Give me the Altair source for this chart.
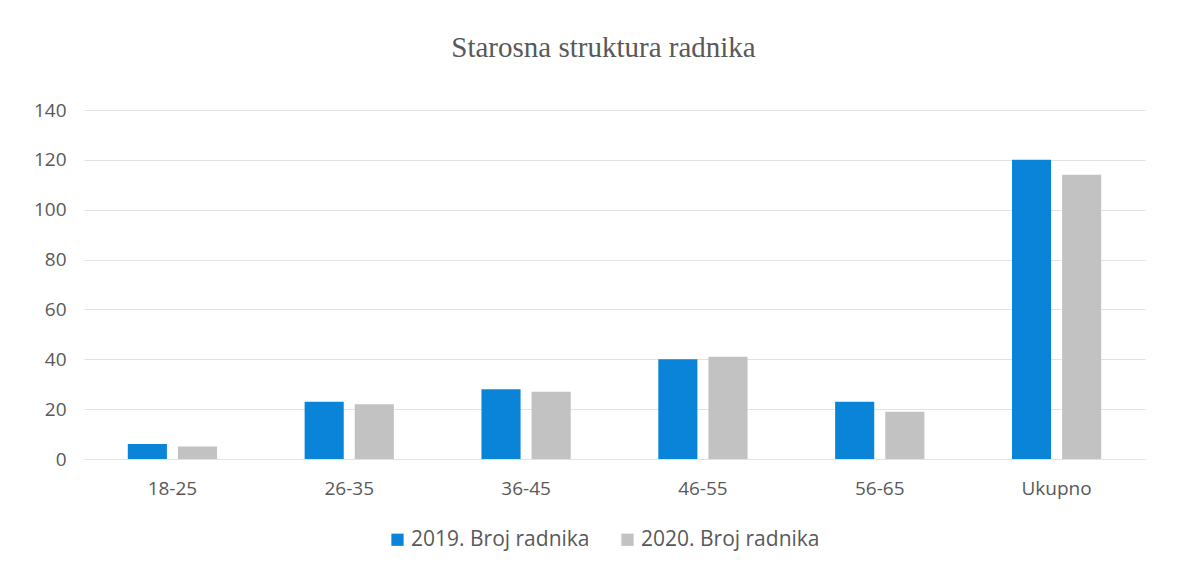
import altair as alt
import pandas as pd

categories = ["18-25", "26-35", "36-45", "46-55", "56-65", "Ukupno"]
series_names = ["2019. Broj radnika", "2020. Broj radnika"]
values_2019 = [6, 23, 28, 40, 23, 120]
values_2020 = [5, 22, 27, 41, 19, 114]
y_ticks = [0, 20, 40, 60, 80, 100, 120, 140]

rows = []
for c, a, b in zip(categories, values_2019, values_2020):
    rows.append({"kat": c, "serija": series_names[0], "vrijednost": a})
    rows.append({"kat": c, "serija": series_names[1], "vrijednost": b})
df = pd.DataFrame(rows)

label_color = "#595959"
font = "Open Sans"

chart = alt.Chart(df).mark_bar().encode(
    x=alt.X("kat:N", sort=categories,
            scale=alt.Scale(paddingInner=0.45, paddingOuter=0.225),
            axis=alt.Axis(title=None, labelAngle=0, ticks=False, domain=False,
                          labelPadding=20, labelFontSize=19, labelColor=label_color,
                          labelFont=font)),
    xOffset=alt.XOffset("serija:N", sort=series_names,
                        scale=alt.Scale(paddingInner=0.22, paddingOuter=0.08)),
    y=alt.Y("vrijednost:Q",
            scale=alt.Scale(domain=[0, 140], nice=False),
            axis=alt.Axis(title=None, values=y_ticks, ticks=False, domain=False,
                          labelPadding=18, labelFontSize=19, labelColor=label_color,
                          labelFont=font, gridColor="#e2e2e2", gridWidth=1)),
    color=alt.Color("serija:N", sort=series_names,
                    scale=alt.Scale(domain=series_names, range=["#0a84d9", "#c2c2c2"]),
                    legend=alt.Legend(title=None, orient="none", direction="horizontal",
                                      legendX=303, legendY=419,
                                      symbolType="square", symbolSize=150,
                                      symbolStrokeWidth=0, labelFontSize=21,
                                      labelColor=label_color, labelFont=font,
                                      labelLimit=400, columnPadding=27, labelOffset=3)),
).properties(
    width=1061,
    height=349,
    background="white",
    title=alt.TitleParams("Starosna struktura radnika", font="Liberation Serif",
                          fontSize=29, fontWeight="normal", color=label_color,
                          anchor="middle", offset=38, dx=-11),
    autosize=alt.AutoSizeParams(type="none"),
    padding={"left": 76, "top": 102, "right": 30, "bottom": 100},
).configure_view(strokeWidth=0, stroke="transparent")

chart.save("out.html", embed_options={"renderer": "svg", "actions": False})
